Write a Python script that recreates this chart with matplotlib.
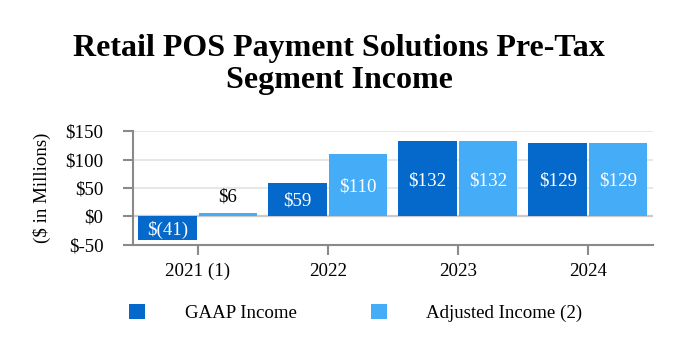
import matplotlib.pyplot as plt
import numpy as np

plt.rcParams['font.family'] = ['Liberation Serif', 'DejaVu Serif']

years = ["2021 (1)", "2022", "2023", "2024"]
gaap_income = [-41, 59, 132, 129]
adjusted_income = [6, 110, 132, 129]
gaap_labels = ["$(41)", "$59", "$132", "$129"]
adjusted_labels = ["$6", "$110", "$132", "$129"]

dark_blue = "#0569cc"
light_blue = "#45acf8"
fs = 13.6

fig = plt.figure(figsize=(6.78, 3.44), dpi=100)
ax = fig.add_axes([0.196, 0.288, 0.767, 0.331])

x = np.arange(len(years))
w = 0.45
b1 = ax.bar(x - 0.232, gaap_income, w, color=dark_blue, label="GAAP Income", zorder=2)
b2 = ax.bar(x + 0.232, adjusted_income, w, color=light_blue, label="Adjusted Income (2)", zorder=2)

# value labels: inside the bar in white, above it in black when the bar is too short
for bars, labels in ((b1, gaap_labels), (b2, adjusted_labels)):
    for rect, lab in zip(bars, labels):
        h = rect.get_height()
        cx = rect.get_x() + rect.get_width() / 2
        if abs(h) < 20:
            ax.text(cx, h + 13, lab, ha="center", va="bottom", fontsize=fs, color="black")
        else:
            ax.text(cx, h / 2 - 3, lab, ha="center", va="center", fontsize=fs, color="white")

ax.set_xlim(-0.5, 3.5)
ax.set_ylim(-50, 150)
ax.set_yticks([-50, 0, 50, 100, 150])
ax.set_yticklabels(["$-50", "$0", "$50", "$100", "$150"])
ax.set_xticks(x)
ax.set_xticklabels(years)

ax.yaxis.grid(True, color="#e3e3e3", linewidth=1.2, zorder=0)
ax.axhline(0, color="#555555", linewidth=1.5, zorder=1)

for s in ("top", "right"):
    ax.spines[s].set_visible(False)
for s in ("left", "bottom"):
    ax.spines[s].set_color("#8a8a8a")
    ax.spines[s].set_linewidth(1.5)

ax.tick_params(axis="y", length=7.2, width=1.5, color="#8a8a8a", labelsize=fs, pad=14)
ax.tick_params(axis="x", length=7.2, width=1.5, color="#8a8a8a", labelsize=fs, pad=5.8)
ax.set_ylabel("($ in Millions)", fontsize=fs, labelpad=10)

fig.text(0.5, 0.812, "Retail POS Payment Solutions Pre-Tax\nSegment Income",
         ha="center", va="center", fontsize=23, fontweight="bold", linespacing=1.15)

fig.legend(handles=[b1, b2], loc="center", bbox_to_anchor=(0.525, 0.09), ncol=2,
           frameon=False, fontsize=fs, handlelength=0.85, handleheight=0.85,
           handletextpad=2.1, columnspacing=3.9)

fig.savefig("out.png", dpi=100)
